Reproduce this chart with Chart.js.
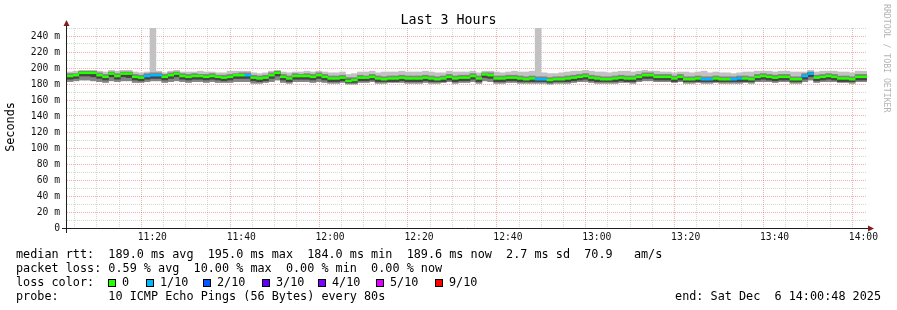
<!DOCTYPE html>
<html>
<head>
<meta charset="utf-8">
<script src="https://cdn.jsdelivr.net/npm/chart.js@4.4.1/dist/chart.umd.min.js"></script>
<style>
html,body{margin:0;padding:0;background:#fff;}
#wrap{position:relative;width:897px;height:310px;overflow:hidden;font-family:'DejaVu Sans Mono',monospace;color:#000;}
#c{position:absolute;left:0;top:0;}
.t{position:absolute;white-space:pre;font-size:11.8px;line-height:14px;}
#title{position:absolute;left:0;top:12px;width:897px;text-align:center;font-size:13.3px;line-height:16px;white-space:pre;}
#ytitle{position:absolute;left:-40px;top:120px;width:100px;height:14px;line-height:14px;font-size:11.8px;text-align:center;transform:rotate(-90deg);white-space:pre;}
#wm{position:absolute;left:881px;top:4px;writing-mode:vertical-rl;font-size:8.2px;line-height:12px;color:#b4b4b4;white-space:pre;}
.box{position:absolute;top:279px;width:8px;height:8px;box-sizing:border-box;border:1px solid #000;}
</style>
</head>
<body>
<div id="wrap">
<canvas id="c" width="897" height="310"></canvas>
<div id="title">Last 3 Hours</div>
<div id="ytitle">Seconds</div>
<div id="wm">RRDTOOL / TOBI OETIKER</div>
<div class="t" style="left:16px;top:247px;">median rtt:  189.0 ms avg  195.0 ms max  184.0 ms min  189.6 ms now  2.7 ms sd  70.9   am/s</div>
<div class="t" style="left:16px;top:261px;">packet loss: 0.59 % avg  10.00 % max  0.00 % min  0.00 % now</div>
<div class="t" style="left:16px;top:275px;">loss color:</div>
<div id="lossLegend"></div>
<div class="t" style="left:16px;top:289px;">probe:       10 ICMP Echo Pings (56 Bytes) every 80s</div>
<div class="t" style="right:16px;top:289px;">end: Sat Dec  6 14:00:48 2025</div>
</div>
<script>
// ---- data ----
const startMinute = 660.8;          // 11:00:48
const endMinute = 840.8;            // 14:00:48
const stepSeconds = 80;
const timeLabels = ['11:20','11:40','12:00','12:20','12:40','13:00','13:20','13:40','14:00'];
const yGridValues = [0,10,20,30,40,50,60,70,80,90,100,110,120,130,140,150,160,170,180,190,200,210,220,230,240,250];

const median = [
 190,191,194,194,194,191,189,193,190,193,193,189,188,190,191,
 191,189,191,193,190,189,190,190,189,190,189,188,189,191,191,
 191,188,187,188,191,194,189,187,190,190,190,189,191,189,187,
 187,188,184,185,188,188,189,187,186,187,187,188,187,187,187,
 188,187,186,187,189,187,188,188,190,187,192,191,187,187,188,
 188,187,186,187,186,186,185,186,186,187,188,189,190,188,187,
 186,186,187,188,187,187,189,191,191,189,189,189,187,189,186,
 186,187,186,186,187,186,186,186,187,187,186,189,190,189,188,
 189,189,186,186,190,193,188,189,190,189,187,187,186,189,189];

const lossTenths = [
 0,0,0,0,0,0,0,0,0,0,0,0,0,1,1,
 1,0,0,0,0,0,0,0,0,0,0,0,0,0,0,
 1,0,0,0,0,0,0,0,0,0,0,0,0,0,0,
 0,0,0,0,0,0,0,0,0,0,0,0,0,0,0,
 0,0,0,0,0,0,0,0,0,0,0,0,0,0,0,
 0,0,0,0,1,1,0,0,0,0,0,0,0,0,0,
 0,0,0,0,0,0,0,0,0,0,0,0,0,0,0,
 0,0,1,1,0,0,0,1,1,0,0,0,0,0,0,
 0,0,0,0,1,1,0,0,0,0,0,0,0,0,0];

const smokeMax = [
 195,196,197,197,197,196,195,197,196,197,197,195,194,195,262,
 196,194,196,197,195,195,195,196,195,195,194,194,196,196,196,
 196,194,193,194,196,197,195,194,195,195,196,195,196,195,194,
 194,195,192,193,195,195,196,194,195,195,195,196,195,195,195,
 196,195,194,194,196,195,195,195,196,194,196,196,195,194,195,
 196,195,195,196,262,194,193,193,194,195,196,196,197,196,195,
 195,194,195,196,196,195,196,197,196,196,195,195,194,195,195,
 194,195,196,194,195,194,194,193,194,195,195,196,196,196,195,
 196,196,195,195,195,197,195,196,196,196,195,195,194,196,196];

const smokeMin = [
 183,184,185,185,184,183,182,184,183,184,184,182,182,183,184,
 184,182,183,184,183,182,183,183,182,183,182,182,182,183,183,
 183,181,181,182,183,185,182,181,183,183,183,182,183,182,181,
 181,182,180,180,182,182,183,181,181,182,182,182,181,181,181,
 182,181,181,182,183,181,182,182,183,181,184,183,181,181,182,
 182,181,181,181,181,181,180,181,181,181,182,183,183,182,181,
 181,181,181,182,182,181,183,184,184,183,183,183,182,183,181,
 181,182,181,181,182,181,181,181,181,182,181,183,183,183,182,
 183,183,181,181,183,185,182,183,183,183,182,182,181,183,183];

const smokeUpper = [
 193,193,196,196,196,194,192,195,193,195,195,192,191,193,194,
 194,192,194,195,193,192,193,192,192,193,191,191,192,193,194,
 194,191,190,191,194,196,192,190,193,192,193,192,194,192,190,
 190,191,188,188,191,190,192,190,189,190,190,191,190,190,190,
 191,190,189,190,192,190,191,191,193,190,194,194,190,190,191,
 191,190,189,190,189,189,188,189,189,190,191,192,193,191,190,
 189,189,190,191,190,190,192,194,194,192,192,192,190,192,189,
 189,190,189,189,190,189,189,189,190,190,189,192,193,192,191,
 192,192,189,189,193,195,191,192,193,192,190,190,189,192,192];

const darkLow = [
 186,187,190,190,189,187,185,189,186,189,188,185,184,186,187,
 187,185,187,189,186,185,186,186,185,186,185,184,185,187,187,
 187,184,183,184,187,190,185,183,186,186,186,185,187,185,183,
 183,184,182,182,184,184,185,183,183,183,183,184,183,183,183,
 184,183,183,183,185,183,184,184,186,183,188,187,183,183,184,
 184,183,183,183,183,183,182,183,183,183,184,185,186,184,183,
 183,183,183,184,183,183,185,187,187,185,185,185,183,185,183,
 183,183,183,183,183,183,183,183,183,183,183,185,186,185,184,
 185,185,183,183,186,189,184,185,186,185,183,183,183,185,185];

const darkHigh = [
 191,192,195,195,195,192,190,194,191,194,194,190,189,191,192,
 192,190,192,194,191,190,191,191,190,191,190,189,190,192,192,
 192,189,188,189,192,195,190,188,191,191,191,190,192,190,188,
 188,189,186,186,189,189,190,188,187,188,188,189,188,188,188,
 189,188,187,188,190,188,189,189,191,188,193,192,188,188,189,
 189,188,187,188,187,187,186,187,187,188,189,190,191,189,188,
 187,187,188,189,188,188,190,192,192,190,190,190,188,190,187,
 187,188,187,187,188,187,187,187,188,188,187,190,191,190,189,
 190,190,187,187,191,194,189,190,191,190,188,188,187,190,190];

const lossLegendKeys = ['0','1/10','2/10','3/10','4/10','5/10','9/10'];
const lossLegendColors = ['#26ff00','#00b8ff','#0059ff','#5e00ff','#7e00ff','#dd00ff','#ff0000'];
const lossColorByTenths = {0:'#26ff00',1:'#00b8ff',2:'#0059ff',3:'#5e00ff',4:'#7e00ff',5:'#dd00ff',9:'#ff0000'};

// ---- style ----
const MEDIAN_HALF = 1.2;
const FONT = 'DejaVu Sans Mono';
const MINOR_GRID = 'rgba(143,143,143,0.36)';
const MAJOR_GRID = 'rgba(222,79,79,0.45)';

// loss legend (html)
const legendX = [108,146,203,262,318,376,435];
const lg = document.getElementById('lossLegend');
lossLegendKeys.forEach((k,i)=>{
  const b = document.createElement('div'); b.className='box';
  b.style.left = legendX[i]+'px'; b.style.background = lossLegendColors[i];
  lg.appendChild(b);
  const t = document.createElement('div'); t.className='t';
  t.style.left = (legendX[i]+14)+'px'; t.style.top='275px'; t.textContent = k;
  lg.appendChild(t);
});

const xOf = i => startMinute + (i + 0.5) * stepSeconds / 60;
const band = (lo, hi) => lo.map((v,i)=>({x:xOf(i), y:[v, hi[i]]}));
const medianBars = median.map((m,i)=>({x:xOf(i), y:[m-MEDIAN_HALF, m+MEDIAN_HALF]}));

const toMin = s => { const [h,m] = s.split(':').map(Number); return h*60+m; };
const majorMinutes = timeLabels.map(toMin);
const xGrid = [];
for (let m = Math.ceil(startMinute/5)*5; m <= endMinute; m += 5) xGrid.push(m);
const fmt = v => { const h = Math.floor(v/60), m = Math.round(v%60); return String(h).padStart(2,'0')+':'+String(m).padStart(2,'0'); };

const axesPlugin = {
  id:'rrdAxes',
  afterDraw(chart){
    const {ctx, chartArea:a} = chart;
    const yb = Math.round(a.bottom) + 0.5;
    const xl = Math.round(a.left) - 0.5;
    ctx.save();
    ctx.strokeStyle = '#1f1f1f'; ctx.lineWidth = 1;
    ctx.beginPath();
    ctx.moveTo(a.left - 5, yb); ctx.lineTo(a.right + 2, yb);
    ctx.moveTo(xl, a.bottom + 5); ctx.lineTo(xl, a.top - 3);
    ctx.stroke();
    ctx.fillStyle = '#7f1f1f';
    ctx.beginPath();
    ctx.moveTo(xl - 3, a.top - 2); ctx.lineTo(xl + 3, a.top - 2); ctx.lineTo(xl, a.top - 8); ctx.closePath(); ctx.fill();
    ctx.beginPath();
    ctx.moveTo(a.right + 1, yb - 3); ctx.lineTo(a.right + 1, yb + 3); ctx.lineTo(a.right + 7, yb); ctx.closePath(); ctx.fill();
    ctx.restore();
  }
};

const barCommon = {grouped:false, barPercentage:1, categoryPercentage:1, borderWidth:0};

new Chart(document.getElementById('c'), {
  type:'bar',
  data:{
    datasets:[
      Object.assign({label:'median', data:medianBars, backgroundColor: lossTenths.map(l=>lossColorByTenths[l]), order:0}, barCommon),
      Object.assign({label:'dark', data:band(darkLow, darkHigh), backgroundColor:'#444444', order:1}, barCommon),
      Object.assign({label:'mid', data:band(smokeMin, smokeUpper), backgroundColor:'#858585', order:2}, barCommon),
      Object.assign({label:'light', data:band(smokeMin, smokeMax), backgroundColor:'#c2c2c2', order:3}, barCommon)
    ]
  },
  options:{
    responsive:false, animation:false,
    layout:{padding:{left:0,right:30,top:28,bottom:0}},
    plugins:{legend:{display:false}, tooltip:{enabled:false}, title:{display:false}},
    scales:{
      x:{
        type:'linear', min:startMinute, max:endMinute, offset:false,
        afterBuildTicks: s => { s.ticks = xGrid.map(v=>({value:v})); },
        afterFit: s => { s.height = 82; s.paddingLeft = 0; s.paddingRight = 0; },
        grid:{drawTicks:false, lineWidth:1, color: c => (c.tick && majorMinutes.includes(c.tick.value)) ? MAJOR_GRID : MINOR_GRID},
        border:{display:false, dash:[1,1]},
        ticks:{autoSkip:false, maxRotation:0, padding:4, color:'#111', font:{family:FONT, size:9.7},
          callback: v => majorMinutes.includes(v) ? fmt(v) : ''}
      },
      y:{
        type:'linear', min:0, max:250,
        afterBuildTicks: s => { s.ticks = yGridValues.map(v=>({value:v})); },
        afterFit: s => { s.width = 67; s.paddingTop = 0; s.paddingBottom = 0; },
        grid:{drawTicks:false, lineWidth:1, color: c => (c.tick && c.tick.value % 20 === 0) ? MAJOR_GRID : MINOR_GRID},
        border:{display:false, dash:[1,1]},
        ticks:{autoSkip:false, padding:7, color:'#111', font:{family:FONT, size:9.7},
          callback: v => v % 20 === 0 ? (v === 0 ? '0' : v + ' m') : ''}
      }
    }
  },
  plugins:[axesPlugin]
});
</script>
</body>
</html>
